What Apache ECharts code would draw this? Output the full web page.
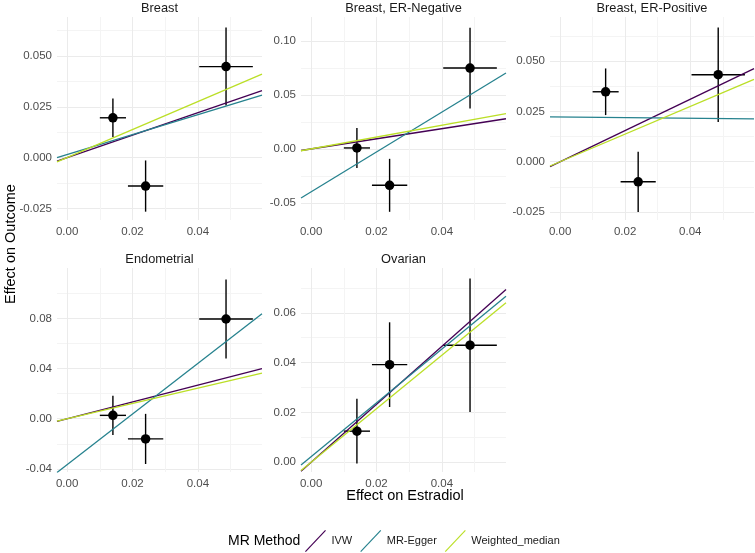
<!DOCTYPE html>
<html><head><meta charset="utf-8">
<script src="https://cdn.jsdelivr.net/npm/echarts@6/dist/echarts.min.js"></script>
<style>html,body{margin:0;padding:0;background:#fff}#c{width:755px;height:553px}</style>
</head><body><div id="c"></div>
<script>
// ---------------- data ----------------
const panelNames = ['Breast', 'Breast, ER-Negative', 'Breast, ER-Positive', 'Endometrial', 'Ovarian'];
const methods = ['IVW', 'MR-Egger', 'Weighted_median'];

const exposureBeta = [0.0140, 0.0240, 0.0486];
const exposureSE   = [0.0040, 0.0054, 0.0082];

const outcomeBetaBreast = [0.0196, -0.0140, 0.0448];
const outcomeSEBreast   = [0.0095, 0.0126, 0.0192];
const outcomeBetaERNeg  = [0.0009, -0.0338, 0.0751];
const outcomeSEERNeg    = [0.0186, 0.0246, 0.0375];
const outcomeBetaERPos  = [0.0348, -0.0100, 0.0433];
const outcomeSEERPos    = [0.0116, 0.0150, 0.0235];
const outcomeBetaEndo   = [0.0027, -0.0161, 0.0796];
const outcomeSEEndo     = [0.0156, 0.0200, 0.0315];
const outcomeBetaOvar   = [0.0125, 0.0392, 0.0470];
const outcomeSEOvar     = [0.0130, 0.0170, 0.0268];

// fitted lines per panel (Breast, ER-Neg, ER-Pos, Endometrial, Ovarian)
const ivwIntercept   = [0, 0, 0, 0, 0];
const ivwSlope       = [0.553, 0.470, 0.777, 0.670, 1.164];
const eggerIntercept = [0.0015, -0.0398, 0.0223, -0.0366, 0.0023];
const eggerSlope     = [0.490, 1.850, -0.017, 2.020, 1.080];
const wmIntercept    = [0, 0, 0, 0, 0];
const wmSlope        = [0.690, 0.550, 0.688, 0.610, 1.074];

const xTickValues = [0, 0.02, 0.04];
const xTickLabels = ['0.00', '0.02', '0.04'];
const xMinorValues = [0.01, 0.03, 0.05];
const xRange = [-0.0031, 0.0596];

const yTickValues = [
  [-0.025, 0, 0.025, 0.05],
  [-0.05, 0, 0.05, 0.10],
  [-0.025, 0, 0.025, 0.05],
  [-0.04, 0, 0.04, 0.08],
  [0, 0.02, 0.04, 0.06]
];
const yTickLabels = [
  ['-0.025', '0.000', '0.025', '0.050'],
  ['-0.05', '0.00', '0.05', '0.10'],
  ['-0.025', '0.000', '0.025', '0.050'],
  ['-0.04', '0.00', '0.04', '0.08'],
  ['0.00', '0.02', '0.04', '0.06']
];
const yMinorValues = [
  [-0.0125, 0.0125, 0.0375, 0.0625],
  [-0.025, 0.025, 0.075],
  [-0.0125, 0.0125, 0.0375, 0.0625],
  [-0.02, 0.02, 0.06, 0.10],
  [0.01, 0.03, 0.05, 0.07]
];
const yRanges = [
  [-0.0307, 0.0692],
  [-0.0660, 0.1225],
  [-0.0290, 0.0720],
  [-0.0425, 0.1203],
  [-0.0039, 0.0780]
];

// ---------------- layout / style ----------------
const FONT = '"Liberation Sans", Arial, Helvetica, sans-serif';
const methodColors = ['#440154', '#26828E', '#BBDF27'];
const gridBoxes = [
  {left: 57,  top: 17,  width: 205, height: 203},
  {left: 301, top: 17,  width: 205, height: 203},
  {left: 550, top: 17,  width: 204, height: 203},
  {left: 57,  top: 268, width: 205, height: 204},
  {left: 301, top: 268, width: 205, height: 204}
];

const outcomeBetas = [outcomeBetaBreast, outcomeBetaERNeg, outcomeBetaERPos, outcomeBetaEndo, outcomeBetaOvar];
const outcomeSEs = [outcomeSEBreast, outcomeSEERNeg, outcomeSEERPos, outcomeSEEndo, outcomeSEOvar];
const lineIntercepts = [ivwIntercept, eggerIntercept, wmIntercept];
const lineSlopes = [ivwSlope, eggerSlope, wmSlope];

function gridColors(majors, minors) {
  const all = majors.map(v => ({v, major: true})).concat(minors.map(v => ({v, major: false})));
  all.sort((a, b) => a.v - b.v);
  return {values: all.map(d => d.v), colors: all.map(d => d.major ? '#EBEBEB' : '#F4F4F4')};
}

const grids = [], xAxes = [], yAxes = [], series = [], graphics = [];

panelNames.forEach((name, i) => {
  const g = gridBoxes[i];
  grids.push(Object.assign({containLabel: false}, g));
  const xg = gridColors(xTickValues, xMinorValues);
  const yr = yRanges[i];
  const ygAll = gridColors(yTickValues[i], yMinorValues[i]);
  const yVals = [], yCols = [];
  ygAll.values.forEach((v, k) => { if (v >= yr[0] && v <= yr[1]) { yVals.push(v); yCols.push(ygAll.colors[k]); } });
  const xVals = [], xCols = [];
  xg.values.forEach((v, k) => { if (v >= xRange[0] && v <= xRange[1]) { xVals.push(v); xCols.push(xg.colors[k]); } });

  xAxes.push({
    type: 'value', gridIndex: i, min: xRange[0], max: xRange[1],
    axisLine: {show: false},
    axisTick: {show: false, customValues: xVals},
    axisLabel: {
      customValues: xTickValues, margin: 6, color: '#4D4D4D', fontSize: 11.5, fontFamily: FONT,
      formatter: v => { const k = xTickValues.findIndex(t => Math.abs(t - v) < 1e-9); return k >= 0 ? xTickLabels[k] : ''; }
    },
    splitLine: {show: true, lineStyle: {color: xCols, width: 1}}
  });
  yAxes.push({
    type: 'value', gridIndex: i, min: yr[0], max: yr[1],
    axisLine: {show: false},
    axisTick: {show: false, customValues: yVals},
    axisLabel: {
      customValues: yTickValues[i], margin: 5, color: '#4D4D4D', fontSize: 11.5, fontFamily: FONT,
      formatter: v => { const k = yTickValues[i].findIndex(t => Math.abs(t - v) < 1e-9); return k >= 0 ? yTickLabels[i][k] : ''; }
    },
    splitLine: {show: true, lineStyle: {color: yCols, width: 1}}
  });

  // error bars
  const ebData = exposureBeta.map((x, k) => {
    const y = outcomeBetas[i][k];
    return [x, y, x - exposureSE[k], x + exposureSE[k], y - outcomeSEs[i][k], y + outcomeSEs[i][k]];
  });
  series.push({
    type: 'custom', xAxisIndex: i, yAxisIndex: i, data: ebData, encode: {x: 0, y: 1}, z: 2, silent: true,
    renderItem: (params, api) => {
      const x = api.value(0), y = api.value(1);
      const a = api.coord([x, api.value(4)]), b = api.coord([x, api.value(5)]);
      const c = api.coord([api.value(2), y]), d = api.coord([api.value(3), y]);
      return {type: 'group', children: [
        {type: 'line', shape: {x1: a[0], y1: a[1], x2: b[0], y2: b[1]}, style: {stroke: '#000', lineWidth: 1.4}},
        {type: 'line', shape: {x1: c[0], y1: c[1], x2: d[0], y2: d[1]}, style: {stroke: '#000', lineWidth: 1.4}}
      ]};
    }
  });
  // points
  series.push({
    type: 'scatter', xAxisIndex: i, yAxisIndex: i, symbolSize: 9.5, z: 3, silent: true,
    itemStyle: {color: '#000', opacity: 1},
    data: exposureBeta.map((x, k) => [x, outcomeBetas[i][k]])
  });
  // fitted lines
  methods.forEach((m, j) => {
    const a = lineIntercepts[j][i], b = lineSlopes[j][i];
    series.push({
      type: 'line', name: m, xAxisIndex: i, yAxisIndex: i, z: 4, silent: true,
      showSymbol: false, symbol: 'none', color: methodColors[j],
      lineStyle: {color: methodColors[j], width: 1.3},
      itemStyle: {color: methodColors[j]},
      data: [[xRange[0], a + b * xRange[0]], [xRange[1], a + b * xRange[1]]]
    });
  });
  // strip title
  graphics.push({
    type: 'text', x: g.left + g.width / 2, y: g.top - 9,
    style: {text: name, align: 'center', verticalAlign: 'middle', font: '12.8px ' + FONT, fill: '#1A1A1A'}
  });
});

graphics.push({
  type: 'text', x: 405, y: 496,
  style: {text: 'Effect on Estradiol', align: 'center', verticalAlign: 'middle', font: '14.5px ' + FONT, fill: '#000'}
});
graphics.push({
  type: 'text', x: 11, y: 244, rotation: Math.PI / 2,
  style: {text: 'Effect on Outcome', align: 'center', verticalAlign: 'middle', font: '14.5px ' + FONT, fill: '#000'}
});
graphics.push({
  type: 'text', x: 228, y: 541,
  style: {text: 'MR Method', align: 'left', verticalAlign: 'middle', font: '14px ' + FONT, fill: '#000'}
});

const chart = echarts.init(document.getElementById('c'), null, {renderer: 'canvas'});
chart.setOption({
  animation: false,
  backgroundColor: '#fff',
  grid: grids,
  xAxis: xAxes,
  yAxis: yAxes,
  legend: {
    data: methods, left: 305, top: 530, padding: 0, itemWidth: 22, itemHeight: 22, itemGap: 8,
    icon: 'path://M0,20 L19,0 L19.8,0.8 L0.8,20.8 Z', selectedMode: false,
    textStyle: {fontSize: 11, color: '#1A1A1A', fontFamily: FONT}
  },
  graphic: graphics,
  series: series
});
</script></body></html>
